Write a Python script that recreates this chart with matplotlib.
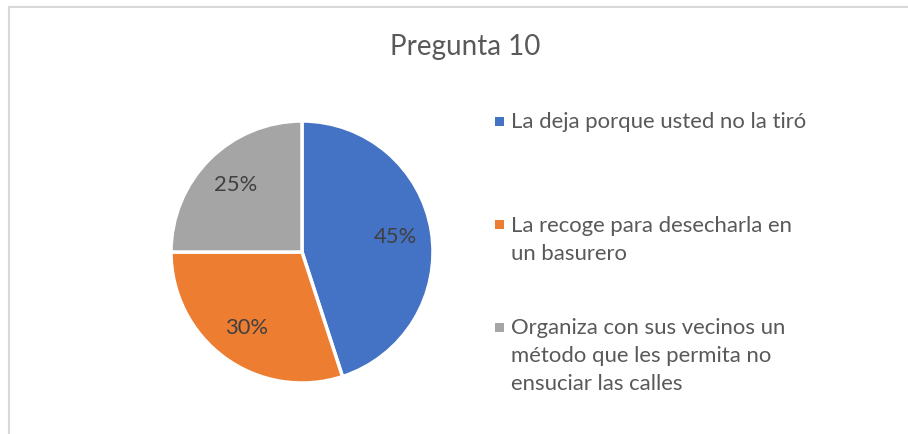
import matplotlib.pyplot as plt
from matplotlib.patches import Rectangle

plt.rcParams['font.family'] = ['Lato', 'DejaVu Sans']

# datos de la pregunta 10
titulo = 'Pregunta 10'
respuestas = ['La deja porque usted no la tiró',
              'La recoge para desecharla en\nun basurero',
              'Organiza con sus vecinos un\nmétodo que les permita no\nensuciar las calles']
porcentajes = [45, 30, 25]
colores = ['#4472c4', '#ed7d31', '#a5a5a5']

W, H = 908, 434
fig = plt.figure(figsize=(W / 100, H / 100), dpi=100)

# marco gris del grafico
fig.patches.append(Rectangle((9 / W, -0.1), 1.2, 1.1 - 7 / H, transform=fig.transFigure,
                             fill=False, edgecolor='#d9d9d9', linewidth=1.5))

# torta
cx, cy, r = 302, 252, 131
ax = fig.add_axes([(cx - r) / W, (H - cy - r) / H, 2 * r / W, 2 * r / H])
wedges, textos, pcts = ax.pie(porcentajes, colors=colores, startangle=90, counterclock=False,
                              autopct='%d%%', pctdistance=0.72,
                              wedgeprops=dict(edgecolor='white', linewidth=2.5))
for t in pcts:
    t.set_color('#404040')
    t.set_fontsize(15.8)
ax.set_xlim(-1.0, 1.0)
ax.set_ylim(-1.0, 1.0)

fig.text(465 / W, 1 - 47 / H, titulo, ha='center', va='center', fontsize=20, color='#595959')

# leyenda a mano
y_leyenda = [122, 225, 327]
for y, txt, c in zip(y_leyenda, respuestas, colores):
    fig.patches.append(Rectangle((494.5 / W, 1 - (y + 4.5) / H), 9 / W, 9 / H,
                                 transform=fig.transFigure, facecolor=c, edgecolor='none'))
    fig.text(511 / W, 1 - (y - 9.5) / H, txt, ha='left', va='top', fontsize=15.9,
             color='#595959', linespacing=1.5)

plt.savefig('out.png', dpi=100)
